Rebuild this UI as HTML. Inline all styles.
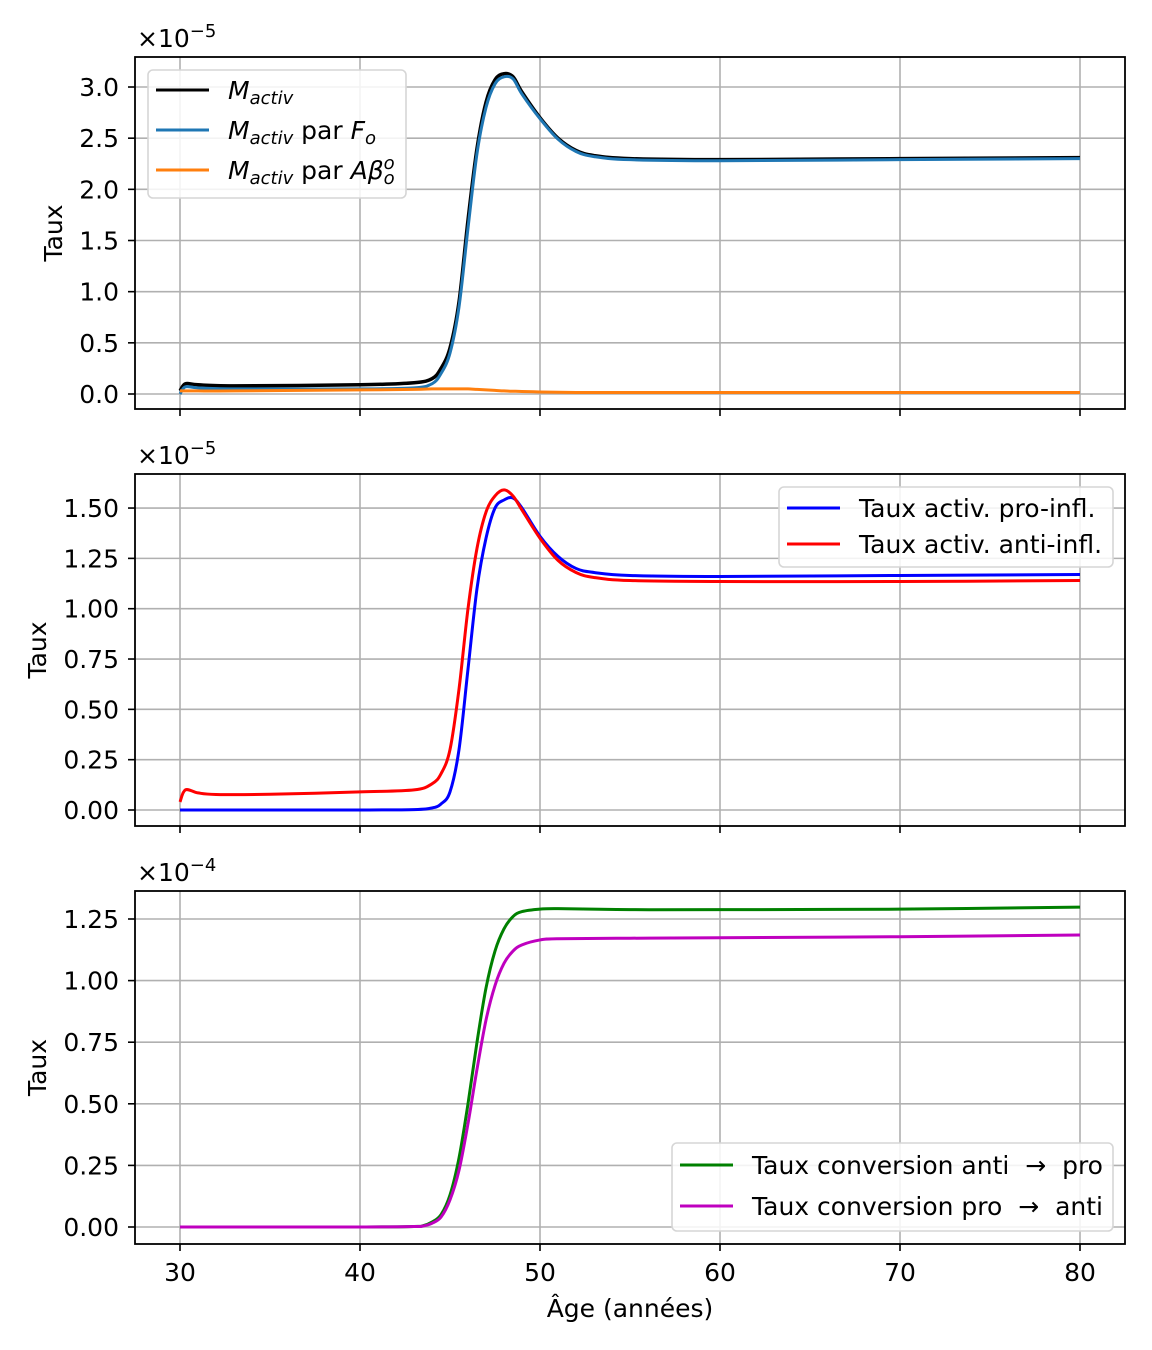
<!DOCTYPE html>
<html><head><meta charset="utf-8"><style>
body{margin:0;background:#fff;}
svg{display:block;font-family:"DejaVu Sans","Liberation Sans",sans-serif;}
</style></head><body>
<svg id="c" width="1152" height="1350" xmlns="http://www.w3.org/2000/svg"></svg>
<script>
// ---- data ----
const xTicks = [30,40,50,60,70,80];
const p1Ticks = [0.0,0.5,1.0,1.5,2.0,2.5,3.0];
const p1TickLabels = ["0.0","0.5","1.0","1.5","2.0","2.5","3.0"];
const p2Ticks = [0,0.25,0.5,0.75,1.0,1.25,1.5];
const p2TickLabels = ["0.00","0.25","0.50","0.75","1.00","1.25","1.50"];
const p3Ticks = [0,0.25,0.5,0.75,1.0,1.25];
const p3TickLabels = ["0.00","0.25","0.50","0.75","1.00","1.25"];

const ageA = [30,30.3,31,33,40,43,44,44.5,45,45.5,46,46.5,47,47.5,48,48.5,49,50,51,52,53,55,60,70,80];
const mActiv = [0.03,0.10,0.09,0.08,0.09,0.11,0.15,0.25,0.45,0.9,1.7,2.4,2.85,3.07,3.13,3.10,2.95,2.70,2.50,2.38,2.33,2.30,2.29,2.30,2.31];
const mActivFo = [0.0,0.07,0.06,0.05,0.05,0.06,0.10,0.20,0.40,0.85,1.62,2.35,2.80,3.03,3.10,3.08,2.93,2.69,2.49,2.37,2.32,2.29,2.28,2.29,2.30];
const mActivAb = [0.03,0.03,0.03,0.03,0.04,0.045,0.05,0.05,0.05,0.05,0.05,0.045,0.04,0.035,0.03,0.027,0.025,0.02,0.017,0.015,0.015,0.015,0.015,0.015,0.015];

const ageB = [30,30.3,31,32,35,40,43,44,44.5,45,45.5,46,46.5,47,47.5,48,48.5,49,50,51,52,53,55,60,70,80];
const antiInfl = [0.04,0.10,0.085,0.077,0.078,0.09,0.10,0.13,0.18,0.30,0.6,1.0,1.3,1.48,1.56,1.59,1.56,1.49,1.35,1.24,1.18,1.155,1.14,1.135,1.135,1.14];
const proInfl = [0,0,0,0,0,0,0.002,0.01,0.03,0.09,0.3,0.7,1.1,1.35,1.5,1.54,1.55,1.50,1.36,1.26,1.20,1.18,1.165,1.16,1.165,1.17];

const ageC = [30,40,43,43.5,44,44.5,45,45.5,46,46.5,47,47.5,48,48.5,49,50,51,55,60,70,80];
const convAP = [0,0,0.002,0.005,0.02,0.05,0.13,0.28,0.5,0.75,0.97,1.12,1.21,1.26,1.28,1.29,1.292,1.288,1.288,1.29,1.298];
const convPA = [0,0,0.002,0.004,0.015,0.04,0.11,0.23,0.42,0.64,0.84,0.98,1.07,1.12,1.145,1.165,1.17,1.172,1.174,1.178,1.185];

// ---- layout ----
const NS="http://www.w3.org/2000/svg";
const svg=document.getElementById('c');
const L=135,R=1125,FS=25;
const xs=v=>180+(v-30)*18;
function el(t,a,p){const e=document.createElementNS(NS,t);for(const k in a)e.setAttribute(k,a[k]);(p||svg).appendChild(e);return e;}
function pathD(xa,ya,X,Y){
  const P=xa.map((x,i)=>[X(x),Y(ya[i])]);
  let d=`M${P[0][0]},${P[0][1]}`;
  for(let i=0;i<P.length-1;i++){
    const p0=P[i-1]||P[i],p1=P[i],p2=P[i+1],p3=P[i+2]||P[i+1];
    const c1=[p1[0]+(p2[0]-p0[0])/6,p1[1]+(p2[1]-p0[1])/6];
    const c2=[p2[0]-(p3[0]-p1[0])/6,p2[1]-(p3[1]-p1[1])/6];
    d+=` C${c1[0]},${c1[1]} ${c2[0]},${c2[1]} ${p2[0]},${p2[1]}`;
  }
  return d;
}
function panel(name,top,bot,y0,scale,ticks,labels,exp,series,legend,showX){
  const g=el('g',{});
  
  
  const Y=v=>y0-v*scale;
  xTicks.forEach(t=>{
    const l=el('line',{x1:xs(t),x2:xs(t),y1:top,y2:bot,stroke:'#b0b0b0','stroke-width':1.6},g);
    
    const tk=el('line',{x1:xs(t),x2:xs(t),y1:bot,y2:bot+7,stroke:'#000','stroke-width':1.6},g);
    
    if(showX){const tx=el('text',{x:xs(t),y:bot+37,'font-size':FS,'text-anchor':'middle'},g);tx.textContent=t;
      }
  });
  ticks.forEach((t,i)=>{
    const l=el('line',{x1:L,x2:R,y1:Y(t),y2:Y(t),stroke:'#b0b0b0','stroke-width':1.6},g);
    
    const tk=el('line',{x1:L-7,x2:L,y1:Y(t),y2:Y(t),stroke:'#000','stroke-width':1.6},g);
    
    const tx=el('text',{x:L-16,y:Y(t)+9,'font-size':FS,'text-anchor':'end'},g);tx.textContent=labels[i];
    
  });
  series.forEach(s=>{
    const p=el('path',{d:pathD(s.x,s.y,xs,Y),fill:'none',stroke:s.c,'stroke-width':s.w||3,'stroke-linejoin':'round'},g);
    
  });
  const f=el('rect',{x:L,y:top,width:R-L,height:bot-top,fill:'none',stroke:'#000','stroke-width':1.8},g);
  
  const ex=el('text',{x:L+2,y:top-10,'font-size':FS},g);
  ex.innerHTML='×10<tspan dy="-10" font-size="18">−'+exp+'</tspan>';
  
  const yl=el('text',{x:0,y:0,'font-size':FS,'text-anchor':'middle',transform:`translate(${name==='panel-activation-total'?62:46},${(top+bot)/2}) rotate(-90)`},g);
  yl.textContent='Taux';
  // legend
  const lg=el('g',{},g);
  
  const b=el('rect',{x:legend.x,y:legend.y,width:legend.w,height:legend.h,rx:5,fill:'#fff','fill-opacity':0.85,stroke:'#d6d6d6','stroke-width':1.6},lg);
  
  legend.items.forEach((it,i)=>{
    const yy=legend.y0+i*legend.dy;
    const ln=el('line',{x1:legend.x+8,x2:legend.x+61,y1:yy,y2:yy,stroke:it.c,'stroke-width':3},lg);
    
    const t=el('text',{x:legend.x+80,y:yy+9,'font-size':FS},lg);t.innerHTML=it.t;
    t.setAttribute('xml:space','preserve');
    
  });
}
const M='<tspan font-style="italic">M</tspan><tspan font-style="italic" font-size="18" dy="5">activ</tspan><tspan dy="-5">';
panel('panel-activation-total',57,409,394,102.33,p1Ticks,p1TickLabels,5,[
  {x:ageA,y:mActiv,c:'#000',n:'line-m-activ',w:3.5},
  {x:ageA,y:mActivFo,c:'#1f77b4',n:'line-m-activ-fo'},
  {x:ageA,y:mActivAb,c:'#ff7f0e',n:'line-m-activ-abeta'}],
  {x:148,y:70,w:258,h:128,y0:90,dy:40,items:[
    {c:'#000',t:M+'</tspan>'},
    {c:'#1f77b4',t:M+' par </tspan><tspan font-style="italic">F</tspan><tspan font-style="italic" font-size="18" dy="5">o</tspan>'},
    {c:'#ff7f0e',t:M+' par </tspan><tspan font-style="italic">Aβ</tspan><tspan font-style="italic" font-size="18" dy="5">o</tspan><tspan font-style="italic" font-size="18" dx="-11" dy="-15">o</tspan>'}]},false);
panel('panel-activation-pro-anti',474,826,810,201.3,p2Ticks,p2TickLabels,5,[
  {x:ageB,y:proInfl,c:'#0000ff',n:'line-pro-infl'},
  {x:ageB,y:antiInfl,c:'#ff0000',n:'line-anti-infl'}],
  {x:779,y:487,w:334,h:80,y0:508,dy:36,items:[
    {c:'#0000ff',t:'Taux activ. pro-infl.'},{c:'#ff0000',t:'Taux activ. anti-infl.'}]},false);
panel('panel-conversion',891,1244,1227,246.4,p3Ticks,p3TickLabels,4,[
  {x:ageC,y:convAP,c:'#008000',n:'line-conversion-anti-pro'},
  {x:ageC,y:convPA,c:'#bf00bf',n:'line-conversion-pro-anti'}],
  {x:672,y:1143,w:441,h:88,y0:1165,dy:41,items:[
    {c:'#008000',t:'Taux conversion anti\u00a0 →\u00a0 pro'},{c:'#bf00bf',t:'Taux conversion pro\u00a0 →\u00a0 anti'}]},true);
const xl=el('text',{x:630,y:1317,'font-size':FS,'text-anchor':'middle'});
xl.textContent='Âge (années)';


</script>
</body></html>
